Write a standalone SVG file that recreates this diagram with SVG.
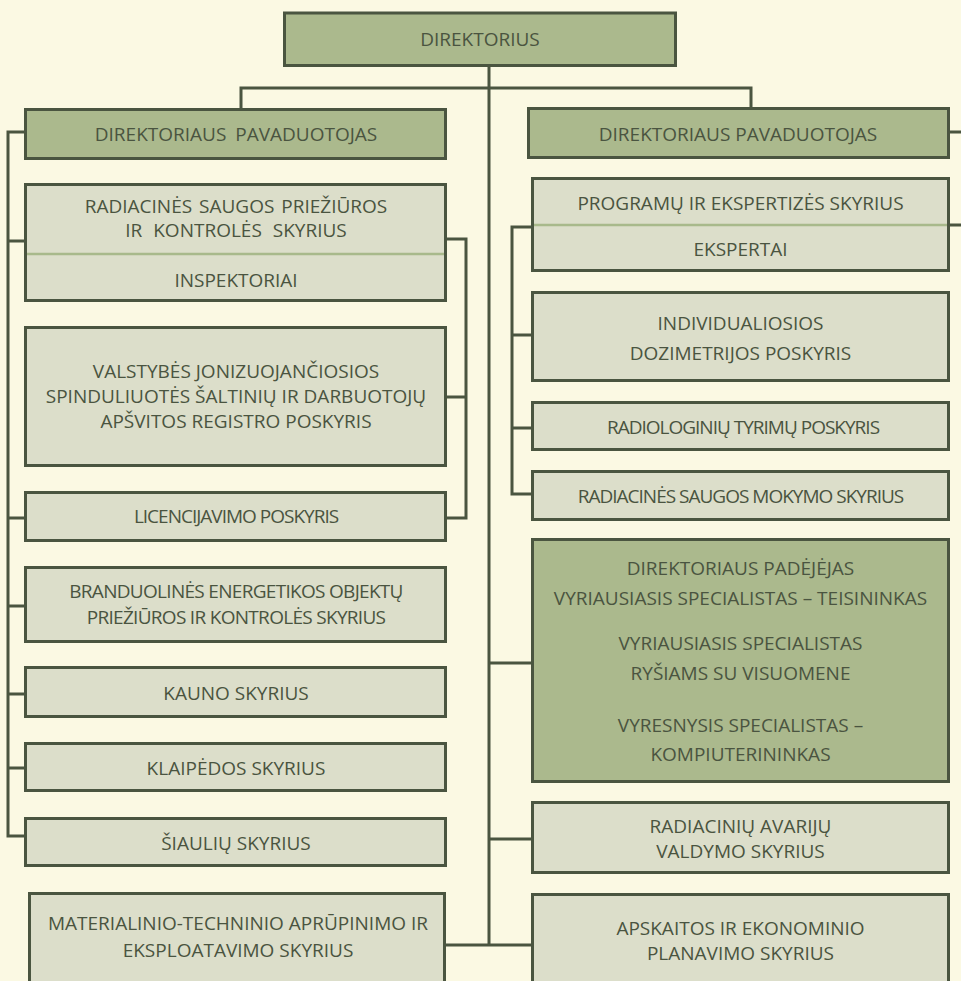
<svg xmlns="http://www.w3.org/2000/svg" width="961" height="981" viewBox="0 0 961 981">
<style>
.bg{fill:#FBF9E3}
.box{fill:#DCDECA;stroke:#4A5540;stroke-width:3}
.dk{fill:#ABB98D;stroke:#4A5540;stroke-width:3}
.div{stroke:#A8B98B;stroke-width:2.5;fill:none}
.con{fill:none;stroke:#4A5540;stroke-width:3}
text{font-family:"Open Sans","Noto Sans","Liberation Sans",sans-serif;font-size:19px;fill:#4A5440;text-anchor:middle}
.c{letter-spacing:-1px}
.c7{letter-spacing:-0.7px}
</style>
<rect class="bg" x="0" y="0" width="961" height="981"/>
<g id="connectors">
<path class="con" d="M489 66 V945"/>
<path class="con" d="M241 108 V88 H751 V107"/>
<path class="con" d="M25 132 H8 V836 H25 M8 241 H25 M8 518 H25 M8 606 H25 M8 694 H25 M8 768 H25"/>
<path class="con" d="M447 239 H466 V518 H447 M466 397 H447"/>
<path class="con" d="M950 132 H964 V225 H950"/>
<path class="con" d="M531 227 H512 V494 H531 M512 335 H531 M512 428 H531"/>
<path class="con" d="M489 663 H531 M489 839 H531 M446 945 H531"/>
</g>
<g id="n-direktorius"><rect class="dk" x="284.5" y="13" width="391" height="52.5"/><text x="480" y="46">DIREKTORIUS</text></g>
<g id="n-dp-left"><rect class="dk" x="25.5" y="109.5" width="420" height="49"/><text x="236" y="141" word-spacing="4">DIREKTORIAUS PAVADUOTOJAS</text></g>
<g id="n-dp-right"><rect class="dk" x="528.5" y="108.5" width="420" height="49"/><text x="738" y="141">DIREKTORIAUS PAVADUOTOJAS</text></g>
<g id="n-radiacines"><rect class="box" x="25.5" y="184.5" width="420" height="116"/><line class="div" x1="27" y1="254" x2="444" y2="254"/><text x="236" y="213" word-spacing="2">RADIACINĖS SAUGOS PRIEŽIŪROS</text><text x="236" y="237" word-spacing="6">IR KONTROLĖS SKYRIUS</text><text x="236" y="287">INSPEKTORIAI</text></g>
<g id="n-valstybes"><rect class="box" x="25.5" y="327.5" width="420" height="138"/><text x="236" y="378">VALSTYBĖS JONIZUOJANČIOSIOS</text><text x="236" y="403">SPINDULIUOTĖS ŠALTINIŲ IR DARBUOTOJŲ</text><text x="236" y="428">APŠVITOS REGISTRO POSKYRIS</text></g>
<g id="n-licencijavimo"><rect class="box" x="25.5" y="492.5" width="420" height="48"/><text class="c" x="236" y="523">LICENCIJAVIMO POSKYRIS</text></g>
<g id="n-branduolines"><rect class="box" x="25.5" y="567.5" width="420" height="74"/><text class="c7" x="236" y="598">BRANDUOLINĖS ENERGETIKOS OBJEKTŲ</text><text class="c7" x="236" y="624">PRIEŽIŪROS IR KONTROLĖS SKYRIUS</text></g>
<g id="n-kauno"><rect class="box" x="25.5" y="667.5" width="420" height="49"/><text x="236" y="700">KAUNO SKYRIUS</text></g>
<g id="n-klaipedos"><rect class="box" x="25.5" y="743.5" width="420" height="47"/><text x="236" y="775">KLAIPĖDOS SKYRIUS</text></g>
<g id="n-siauliu"><rect class="box" x="25.5" y="818.5" width="420" height="47"/><text x="236" y="850">ŠIAULIŲ SKYRIUS</text></g>
<g id="n-materialinio"><rect class="box" x="29.5" y="893.5" width="415" height="95"/><text x="238" y="930">MATERIALINIO-TECHNINIO APRŪPINIMO IR</text><text x="238" y="957">EKSPLOATAVIMO SKYRIUS</text></g>
<g id="n-programu"><rect class="box" x="532.5" y="178.5" width="416" height="92"/><line class="div" x1="534" y1="225" x2="947" y2="225"/><text x="740.5" y="210">PROGRAMŲ IR EKSPERTIZĖS SKYRIUS</text><text x="740.5" y="256">EKSPERTAI</text></g>
<g id="n-individualiosios"><rect class="box" x="532.5" y="292.5" width="416" height="88"/><text x="740.5" y="330">INDIVIDUALIOSIOS</text><text x="740.5" y="360">DOZIMETRIJOS POSKYRIS</text></g>
<g id="n-radiologiniu"><rect class="box" x="532.5" y="402.5" width="416" height="47"/><text class="c" x="743" y="434">RADIOLOGINIŲ TYRIMŲ POSKYRIS</text></g>
<g id="n-mokymo"><rect class="box" x="532.5" y="471.5" width="416" height="48"/><text class="c" x="740.5" y="503">RADIACINĖS SAUGOS MOKYMO SKYRIUS</text></g>
<g id="n-padejejas"><rect class="dk" x="532.5" y="539.5" width="416" height="242"/><text x="740.5" y="575">DIREKTORIAUS PADĖJĖJAS</text><text x="740.5" y="605">VYRIAUSIASIS SPECIALISTAS – TEISININKAS</text><text x="740.5" y="650">VYRIAUSIASIS SPECIALISTAS</text><text x="740.5" y="680">RYŠIAMS SU VISUOMENE</text><text x="740.5" y="732">VYRESNYSIS SPECIALISTAS –</text><text x="740.5" y="761">KOMPIUTERININKAS</text></g>
<g id="n-avariju"><rect class="box" x="532.5" y="802.5" width="416" height="70"/><text x="740.5" y="833">RADIACINIŲ AVARIJŲ</text><text x="740.5" y="858">VALDYMO SKYRIUS</text></g>
<g id="n-apskaitos"><rect class="box" x="532.5" y="894.5" width="416" height="95"/><text x="740.5" y="935">APSKAITOS IR EKONOMINIO</text><text x="740.5" y="960">PLANAVIMO SKYRIUS</text></g>
</svg>
